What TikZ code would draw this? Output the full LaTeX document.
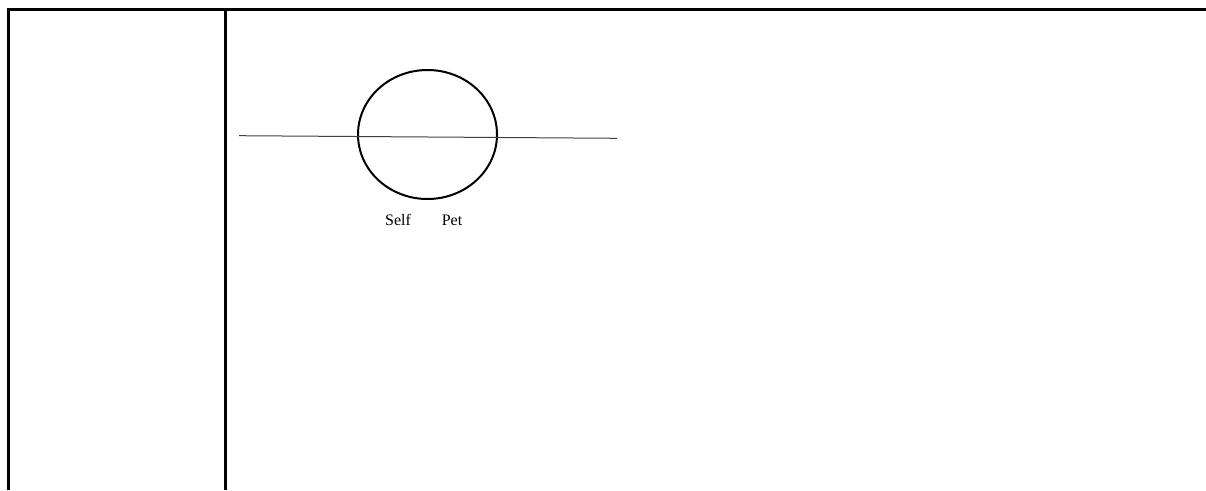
\documentclass[tikz,border=0pt]{standalone}
\usepackage{fontspec}
\setmainfont{Liberation Serif}
\usetikzlibrary{shapes.geometric}
\begin{document}
\begin{tikzpicture}[x=1pt,y=-1pt,
  frame/.style={line width=3pt,black},
  lbl/.style={font=\fontsize{16}{18}\selectfont,inner sep=0pt,anchor=center}]
\useasboundingbox (0,0) rectangle (1206,490);
\draw[frame] (7,9.5) -- (1206,9.5);
\draw[frame] (8.5,8) -- (8.5,490);
\draw[frame] (225.5,9.5) -- (225.5,490);
\node[draw,ellipse,line width=2pt,minimum width=139pt,minimum height=129pt,inner sep=0pt] (c) at (427.5,134.5) {};
\coordinate (l1) at (239,135.7);
\coordinate (l2) at (617,138.3);
\draw[line width=1pt,black!75] (l1) -- (l2);
\node[lbl] (self) at (398,220) {Self};
\node[lbl] (pet) at (452,220) {Pet};
\end{tikzpicture}
\end{document}
